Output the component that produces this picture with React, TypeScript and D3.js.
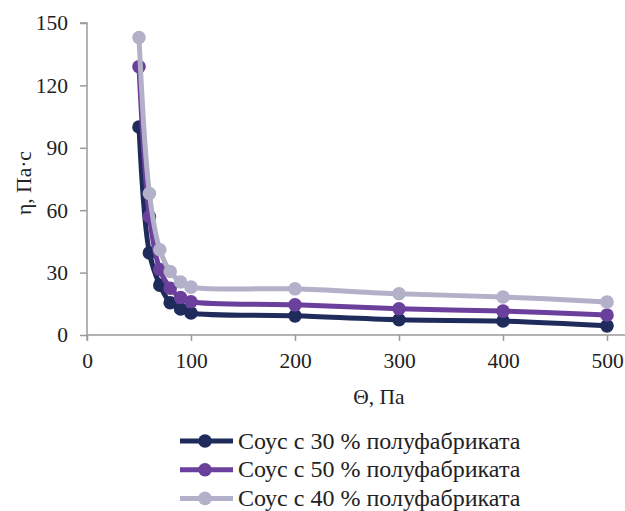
import React, { useRef, useEffect } from "react";
import * as d3 from "d3";

// shear stress, Pa
const stress = [50, 60, 70, 80, 90, 100, 200, 300, 400, 500];
// viscosity, Pa·s
const sauce30 = [100, 39.5, 24, 15.5, 12.5, 10.6, 9.2, 7.3, 6.7, 4.4];
const sauce50 = [129, 57, 31.5, 22.5, 18, 16, 14.5, 12.6, 11.5, 9.6];
const sauce40 = [143, 68, 41, 30.5, 25.5, 23, 22.2, 19.8, 18.3, 15.9];

const seriesNames = [
  "Соус с 30 % полуфабриката",
  "Соус с 50 % полуфабриката",
  "Соус с 40 % полуфабриката",
];
const seriesColors = ["#1f2b5b", "#6b3f9c", "#b3b0c9"];
const xTicks = [0, 100, 200, 300, 400, 500];
const yTicks = [0, 30, 60, 90, 120, 150];

const FONT = "'Liberation Serif'";

const App = () => {
  const svgRef = useRef<SVGSVGElement>(null);

  useEffect(() => {
    const svg = d3.select(svgRef.current);
    svg.selectAll("*").remove();
    const axisColor = "#9a9a9a";

    const x = d3.scaleLinear().domain([0, 500]).range([87, 607]);
    const y = d3.scaleLinear().domain([0, 150]).range([335, 23]);

    // y axis
    const yAxis = svg.append("g").attr("transform", "translate(87,0)")
      .call(d3.axisLeft(y).tickValues(yTicks).tickSize(7).tickPadding(12));
    yAxis.attr("font-family", null).attr("font-size", null);
    yAxis.select(".domain").attr("d", "M-7,23H0V340").attr("stroke", axisColor).attr("stroke-width", 1.5);
    yAxis.selectAll(".tick line").attr("stroke", axisColor).attr("stroke-width", 1.5);
    yAxis.selectAll(".tick text").attr("fill", "#222");

    // x axis
    const xAxis = svg.append("g").attr("transform", "translate(0,335)")
      .call(d3.axisBottom(x).tickValues(xTicks).tickSize(6).tickPadding(12));
    xAxis.attr("font-family", null).attr("font-size", null);
    xAxis.select(".domain").attr("d", "M87,0H625").attr("stroke", axisColor).attr("stroke-width", 1.5);
    xAxis.selectAll(".tick line").attr("stroke", axisColor).attr("stroke-width", 1.5);
    xAxis.selectAll(".tick text").attr("fill", "#222");

    svg.append("text").attr("x", 379).attr("y", 404).attr("text-anchor", "middle")
      .attr("fill", "#222").text("Θ, Па");
    svg.append("text").attr("transform", "translate(31,183) rotate(-90)").attr("text-anchor", "middle")
      .attr("fill", "#222").text("η, Па·с");

    const allSeries = [sauce30, sauce50, sauce40];
    const lineGen = d3.line<number>()
      .x((d, i) => x(stress[i]))
      .y((d) => y(d))
      .curve(d3.curveCatmullRom.alpha(0.5));

    allSeries.forEach((vals, si) => {
      const g = svg.append("g");
      g.append("path").attr("d", lineGen(vals)).attr("fill", "none")
        .attr("stroke", seriesColors[si]).attr("stroke-width", 5);
      g.selectAll("circle").data(vals).enter().append("circle")
        .attr("cx", (d, i) => x(stress[i])).attr("cy", (d) => y(d))
        .attr("r", 6.8).attr("fill", seriesColors[si]);
    });

    // legend
    seriesNames.forEach((name, i) => {
      const ly = 441 + i * 28.7;
      const g = svg.append("g");
      g.append("line").attr("x1", 180).attr("x2", 233).attr("y1", ly).attr("y2", ly)
        .attr("stroke", seriesColors[i]).attr("stroke-width", 5);
      g.append("circle").attr("cx", 205).attr("cy", ly).attr("r", 6.8).attr("fill", seriesColors[i]);
      g.append("text").attr("x", 238).attr("y", ly + 7.5).style("font-size", "24px")
        .attr("fill", "#222").text(name);
    });
  }, []);

  return (
    <svg ref={svgRef} width={625} height={511}
      style={{ position: "absolute", left: 0, top: 0, background: "#fff", fontFamily: FONT, fontSize: 21.5 }} />
  );
};

export default App;
